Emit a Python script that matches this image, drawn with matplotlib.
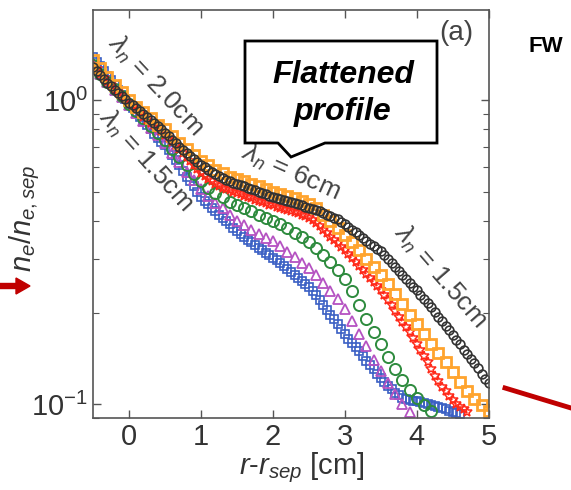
import numpy as np
import matplotlib
matplotlib.use("Agg")
import matplotlib.pyplot as plt
from matplotlib.patches import Polygon, FancyArrow
from matplotlib.lines import Line2D

plt.rcParams['font.family'] = ['Liberation Sans', 'DejaVu Sans']
plt.rcParams['mathtext.fontset'] = 'custom'
plt.rcParams['mathtext.rm'] = 'Liberation Sans'
plt.rcParams['mathtext.it'] = 'Liberation Sans:italic'
plt.rcParams['mathtext.bf'] = 'Liberation Sans:bold'

# every profile starts at r - r_sep = -0.5 cm; sampling step differs per probe
x_start = -0.5
fine_step = 0.05
coarse_step = 0.1

blue = [1.38, 1.335, 1.29, 1.245, 1.20, 1.16, 1.12, 1.08, 1.04, 1.005,
        0.97, 0.94, 0.91, 0.88, 0.85, 0.825, 0.80, 0.775, 0.75, 0.73,
        0.71, 0.685, 0.66, 0.635, 0.61, 0.585, 0.56, 0.54, 0.52, 0.50,
        0.48, 0.467, 0.455, 0.442, 0.43, 0.42, 0.41, 0.40, 0.39, 0.38,
        0.37, 0.362, 0.355, 0.347, 0.34, 0.333, 0.327, 0.321, 0.315, 0.309,
        0.303, 0.297, 0.29, 0.284, 0.278, 0.272, 0.266, 0.26, 0.254, 0.249,
        0.243, 0.236, 0.228, 0.22, 0.212, 0.204, 0.197, 0.19, 0.183, 0.176,
        0.17, 0.164, 0.159, 0.154, 0.149, 0.144, 0.139, 0.134, 0.13, 0.126,
        0.122, 0.118, 0.115, 0.112, 0.109, 0.107, 0.105, 0.104, 0.103, 0.1025,
        0.102, 0.1015, 0.101, 0.1, 0.099, 0.0985, 0.098, 0.097, 0.096, 0.095,
        0.094, 0.0935, 0.093]
magenta = [1.30, 1.22, 1.15, 1.08, 1.02, 0.96, 0.905, 0.855, 0.81, 0.765,
           0.72, 0.67, 0.625, 0.58, 0.545, 0.51, 0.485, 0.46, 0.44, 0.42,
           0.40, 0.387, 0.375, 0.363, 0.352, 0.343, 0.33, 0.317, 0.304, 0.292,
           0.28, 0.265, 0.25, 0.236, 0.222, 0.205, 0.187, 0.17, 0.155, 0.14,
           0.128, 0.117, 0.108, 0.10, 0.094]
green = [1.30, 1.22, 1.15, 1.09, 1.03, 0.97, 0.92, 0.87, 0.82, 0.78,
         0.74, 0.69, 0.65, 0.61, 0.57, 0.54, 0.515, 0.495, 0.478, 0.463,
         0.45, 0.44, 0.43, 0.42, 0.41, 0.40, 0.39, 0.378, 0.366, 0.354,
         0.342, 0.327, 0.31, 0.293, 0.276, 0.258, 0.236, 0.212, 0.19, 0.172,
         0.158, 0.143, 0.13, 0.12, 0.111, 0.105, 0.099, 0.095]
red = [1.30, 1.26, 1.22, 1.185, 1.15, 1.12, 1.09, 1.06, 1.03, 1.005,
       0.98, 0.955, 0.93, 0.905, 0.88, 0.86, 0.84, 0.825, 0.81, 0.79,
       0.77, 0.75, 0.73, 0.71, 0.69, 0.67, 0.65, 0.63, 0.61, 0.592,
       0.575, 0.562, 0.55, 0.54, 0.53, 0.522, 0.515, 0.51, 0.505, 0.50,
       0.495, 0.49, 0.485, 0.48, 0.475, 0.47, 0.465, 0.461, 0.457, 0.453,
       0.45, 0.446, 0.443, 0.439, 0.435, 0.431, 0.428, 0.424, 0.42, 0.415,
       0.41, 0.403, 0.395, 0.385, 0.375, 0.365, 0.355, 0.346, 0.338, 0.329,
       0.32, 0.311, 0.302, 0.293, 0.285, 0.276, 0.268, 0.26, 0.252, 0.244,
       0.237, 0.228, 0.22, 0.211, 0.203, 0.194, 0.186, 0.179, 0.172, 0.165,
       0.158, 0.151, 0.144, 0.137, 0.13, 0.124, 0.119, 0.114, 0.11, 0.106,
       0.103, 0.10, 0.098, 0.096, 0.094]
orange = [1.35, 1.27, 1.19, 1.12, 1.06, 1.0, 0.95, 0.91, 0.87, 0.83,
          0.80, 0.76, 0.72, 0.69, 0.66, 0.63, 0.61, 0.59, 0.575, 0.56,
          0.55, 0.54, 0.53, 0.52, 0.51, 0.50, 0.492, 0.484, 0.476, 0.466,
          0.455, 0.44, 0.42, 0.40, 0.38, 0.36, 0.34, 0.32, 0.30, 0.283,
          0.265, 0.248, 0.23, 0.213, 0.197, 0.183, 0.17, 0.158, 0.147, 0.137,
          0.127, 0.118, 0.11, 0.104, 0.099, 0.095]
black = [1.28, 1.245, 1.21, 1.175, 1.14, 1.11, 1.08, 1.055, 1.03, 1.005,
         0.98, 0.96, 0.94, 0.92, 0.90, 0.88, 0.86, 0.84, 0.82, 0.80,
         0.78, 0.76, 0.74, 0.72, 0.70, 0.685, 0.67, 0.655, 0.64, 0.625,
         0.61, 0.60, 0.59, 0.58, 0.57, 0.562, 0.555, 0.547, 0.54, 0.535,
         0.53, 0.525, 0.52, 0.515, 0.51, 0.505, 0.50, 0.495, 0.49, 0.485,
         0.48, 0.476, 0.472, 0.468, 0.465, 0.461, 0.458, 0.454, 0.45, 0.446,
         0.443, 0.439, 0.435, 0.43, 0.425, 0.42, 0.415, 0.41, 0.405, 0.398,
         0.39, 0.383, 0.375, 0.368, 0.36, 0.352, 0.345, 0.337, 0.33, 0.324,
         0.318, 0.309, 0.30, 0.291, 0.283, 0.274, 0.266, 0.258, 0.25, 0.243,
         0.237, 0.229, 0.222, 0.215, 0.208, 0.201, 0.194, 0.187, 0.181, 0.175,
         0.169, 0.163, 0.157, 0.151, 0.146, 0.141, 0.136, 0.131, 0.126, 0.121,
         0.117]

series = [
    (blue, fine_step, '#3a5fc4', 's', 5.6, 1.2),
    (magenta, coarse_step, '#b552c2', '^', 7.5, 1.3),
    (green, coarse_step, '#2e8b3e', 'o', 8.0, 1.4),
    (red, fine_step, '#ff2a1a', '*', 7.5, 1.1),
    (orange, coarse_step, '#ffa42e', 's', 7.5, 2.0),
    (black, fine_step, '#333333', 'o', 6.3, 1.2),
]

fig = plt.figure(figsize=(5.71, 4.90), dpi=100)
ax = fig.add_axes([0.163, 0.147, 0.693, 0.833])

for vals, step, col, mk, ms, mew in series:
    xs = np.round(x_start + step * np.arange(len(vals)), 3)
    ax.plot(xs, vals, linestyle='none', marker=mk, ms=ms,
            mfc='none', mec=col, mew=mew)

ax.set_yscale('log')
ax.set_xlim(-0.5, 5)
ax.set_ylim(0.09, 1.98)
ax.set_xticks([0, 1, 2, 3, 4, 5])
ax.set_yticks([0.1, 1])
ax.set_yticklabels([r'$\mathregular{10^{-1}}$', r'$\mathregular{10^{0}}$'])
ax.tick_params(which='both', direction='in', top=True, right=True,
               color='#555555', labelsize=21, labelcolor='#333333')
ax.tick_params(which='major', length=6, width=1)
ax.tick_params(which='minor', length=4, width=0.8)
for sp in ax.spines.values():
    sp.set_color('#555555')
    sp.set_linewidth(1.2)

ax.set_xlabel(r'$\it{r}$-$\it{r}_{sep}$ [cm]', fontsize=21, color='#333333')
ax.set_ylabel(r'$\it{n_e/n_{e,sep}}$', fontsize=21, color='#333333')
ax.xaxis.set_label_coords(0.528, -0.08)
ax.yaxis.set_label_coords(-0.13, 0.49)

lab = dict(color='#444444', fontsize=19, ha='center', va='center',
           rotation_mode='anchor')
ax.text(0.37, 1.12, r'$\lambda_n$ = 2.0cm', rotation=-47, **lab)
ax.text(0.235, 0.635, r'$\lambda_n$ = 1.5cm', rotation=-48, **lab)
ax.text(2.24, 0.58, r'$\lambda_n$ = 6cm', rotation=-24, **lab)
ax.text(4.32, 0.264, r'$\lambda_n$ = 1.5cm', rotation=-49, **lab)

ax.text(0.96, 0.975, '(a)', transform=ax.transAxes, ha='right', va='top',
        fontsize=20, color='#444444')

# callout box, figure pixel coordinates converted to fraction
W, H = 571.0, 490.0
pts = [(245, 41), (437, 41), (437, 143), (325, 143), (291, 157),
       (278, 143), (245, 143)]
box = Polygon([(px / W, 1 - py / H) for px, py in pts], closed=True,
              transform=fig.transFigure, fc='white', ec='black', lw=2,
              zorder=10)
fig.patches.append(box)
fig.text(343 / W, 1 - 75 / H, 'Flattened', ha='center', va='center',
         fontsize=23, fontweight='bold', fontstyle='italic', zorder=11)
fig.text(343 / W, 1 - 112 / H, 'profile', ha='center', va='center',
         fontsize=23, fontweight='bold', fontstyle='italic', zorder=11)

fig.text(546 / W, 1 - 46 / H, 'FW', ha='center', va='center',
         fontsize=16, fontweight='bold')

arrow = FancyArrow(0 / W, 1 - 286 / H, 30 / W, 0, width=5 / H,
                   head_width=16 / H, head_length=14 / W,
                   length_includes_head=True, transform=fig.transFigure,
                   color='#c00000')
fig.patches.append(arrow)
fig.lines.append(Line2D([505 / W, 571 / W], [1 - 388 / H, 1 - 408 / H],
                        transform=fig.transFigure, color='#c00000', lw=3.5))

fig.savefig('out.png', dpi=100)
